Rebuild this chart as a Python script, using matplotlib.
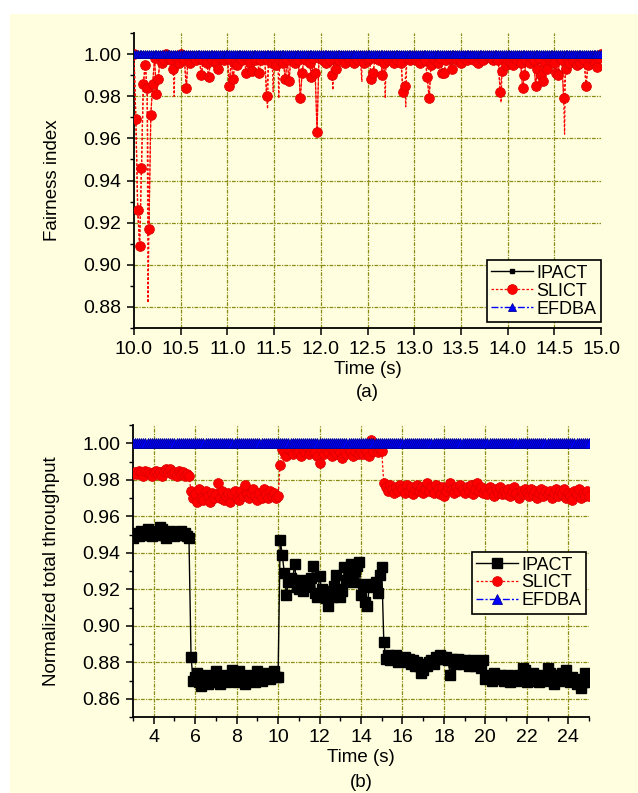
import numpy as np
import matplotlib
matplotlib.use('Agg')
import matplotlib.pyplot as plt
from matplotlib.patches import Rectangle
from matplotlib.ticker import MultipleLocator, FormatStrFormatter

plt.rcParams['font.family'] = ['Liberation Sans', 'DejaVu Sans']
plt.rcParams['font.size'] = 13

# ---------------- (a) fairness index, 10 - 15 s ----------------
t_a = np.linspace(10.0, 15.0, 251)
slict_a = [
    1.000, 0.969, 0.926, 0.909, 0.946, 0.986, 0.995, 0.984, 0.917, 0.971,
    0.986, 0.998, 0.981, 0.988, 0.999, 0.996, 0.997, 1.000, 0.998, 0.999,
    0.997, 0.993, 0.999, 0.998, 0.996, 1.000, 0.998, 0.997, 0.984, 0.999,
    0.996, 0.999, 0.998, 0.997, 0.999, 0.998, 0.990, 0.997, 0.999, 0.996,
    0.989, 0.998, 0.997, 0.999, 0.996, 0.993, 0.998, 0.999, 0.997, 0.998,
    0.999, 0.985, 0.997, 0.988, 0.996, 0.995, 0.999, 0.998, 0.997, 0.999,
    0.991, 0.998, 0.996, 0.992, 0.999, 0.997, 0.998, 0.991, 0.997, 0.999,
    0.998, 0.980, 0.997, 0.999, 0.996, 0.998, 0.995, 0.999, 0.997, 0.998,
    0.996, 0.988, 0.997, 0.987, 0.999, 0.998, 0.996, 0.999, 0.997, 0.979,
    0.991, 0.998, 0.997, 0.999, 0.996, 0.989, 0.998, 0.991, 0.963, 0.998,
    0.999, 0.997, 0.998, 0.996, 0.999, 0.997, 0.990, 0.998, 0.993, 0.999,
    0.997, 0.999, 0.998, 0.996, 0.999, 0.997, 0.998, 0.999, 0.996, 0.998,
    0.997, 0.999, 0.998, 0.996, 0.999, 0.997, 0.998, 0.988, 0.991, 0.998,
    0.999, 0.997, 0.998, 0.990, 0.996, 0.999, 0.997, 0.998, 0.999, 0.996,
    0.998, 0.997, 0.999, 0.996, 0.982, 0.985, 0.998, 0.999, 0.997, 0.998,
    0.999, 0.997, 0.998, 0.996, 0.999, 0.998, 0.997, 0.989, 0.979, 0.995,
    0.998, 0.997, 0.999, 0.996, 0.998, 0.991, 0.991, 0.997, 0.999, 0.998,
    0.993, 0.998, 0.999, 0.997, 0.998, 0.996, 0.999, 0.998, 0.997, 0.999,
    0.998, 0.999, 0.997, 0.998, 0.996, 0.998, 0.999, 0.997, 0.998, 0.999,
    0.999, 0.998, 0.997, 0.999, 0.998, 0.997, 0.982, 0.992, 0.998, 0.995,
    0.997, 0.999, 0.996, 0.995, 0.998, 0.997, 0.999, 0.996, 0.984, 0.990,
    0.997, 0.999, 0.996, 0.998, 0.997, 0.985, 0.993, 0.998, 0.990, 0.987,
    0.996, 0.993, 0.998, 0.997, 0.999, 0.996, 0.991, 0.990, 0.998, 0.997,
    0.979, 0.993, 0.998, 0.996, 0.999, 0.997, 0.998, 0.995, 0.998, 0.996,
    0.998, 0.997, 0.985, 0.995, 0.998, 0.999, 0.997, 0.996, 0.994, 0.998,
    1.000,
]
# short SLICT drops that show only as dashed line (no symbol)
slict_a_dip_t = [10.15, 10.43, 11.43, 11.49, 11.55, 12.13, 12.44, 12.69, 12.91, 13.93, 14.61]
slict_a_dip_v = [0.882, 0.980, 0.974, 0.982, 0.979, 0.983, 0.987, 0.979, 0.975, 0.977, 0.962]
ipact_a = [1.0] * len(t_a)
efdba_a = [1.0] * len(t_a)

# ---------------- (b) normalized throughput, 3 - 25 s ----------------
t_b = np.linspace(3.0, 25.0, 221)
ipact_b = [
    0.948, 0.950, 0.951, 0.949, 0.952, 0.950, 0.951, 0.953, 0.950, 0.949,
    0.951, 0.952, 0.950, 0.954, 0.953, 0.950, 0.948, 0.951, 0.952, 0.950,
    0.949, 0.951, 0.950, 0.952, 0.950, 0.951, 0.949, 0.948, 0.883, 0.870,
    0.872, 0.874, 0.869, 0.867, 0.871, 0.873, 0.868, 0.870, 0.872, 0.869,
    0.875, 0.871, 0.868, 0.870, 0.873, 0.869, 0.872, 0.870, 0.876, 0.871,
    0.869, 0.875, 0.872, 0.870, 0.868, 0.871, 0.873, 0.870, 0.872, 0.869,
    0.875, 0.871, 0.870, 0.873, 0.872, 0.874, 0.871, 0.873, 0.875, 0.872,
    0.872, 0.947, 0.939, 0.929, 0.917, 0.924, 0.926, 0.925, 0.934, 0.921,
    0.920, 0.925, 0.919, 0.922, 0.921, 0.923, 0.926, 0.933, 0.918, 0.916,
    0.927, 0.920, 0.919, 0.915, 0.911, 0.918, 0.916, 0.922, 0.928, 0.920,
    0.916, 0.919, 0.932, 0.925, 0.931, 0.934, 0.924, 0.930, 0.933, 0.935,
    0.917, 0.923, 0.913, 0.911, 0.921, 0.922, 0.923, 0.924, 0.918, 0.928,
    0.932, 0.891, 0.882, 0.884, 0.881, 0.883, 0.882, 0.884, 0.880, 0.881,
    0.881, 0.883, 0.880, 0.882, 0.879, 0.881, 0.878, 0.880, 0.878, 0.874,
    0.876, 0.879, 0.878, 0.880, 0.881, 0.879, 0.883, 0.882, 0.884, 0.883,
    0.882, 0.883, 0.881, 0.873, 0.882, 0.880, 0.879, 0.882, 0.881, 0.879,
    0.881, 0.880, 0.878, 0.879, 0.881, 0.878, 0.880, 0.879, 0.877, 0.881,
    0.871, 0.873, 0.872, 0.870, 0.874, 0.872, 0.871, 0.873, 0.872, 0.870,
    0.871, 0.873, 0.869, 0.872, 0.871, 0.870, 0.873, 0.871, 0.877, 0.876,
    0.869, 0.873, 0.871, 0.874, 0.870, 0.872, 0.869, 0.871, 0.873, 0.870,
    0.877, 0.874, 0.871, 0.868, 0.873, 0.872, 0.870, 0.874, 0.871, 0.876,
    0.871, 0.869, 0.872, 0.870, 0.868, 0.871, 0.866, 0.869, 0.874, 0.870,
    0.869,
]
slict_b = [
    0.983, 0.984, 0.983, 0.985, 0.984, 0.982, 0.985, 0.984, 0.983, 0.982,
    0.984, 0.985, 0.983, 0.984, 0.982, 0.985, 0.986, 0.984, 0.986, 0.983,
    0.984, 0.982, 0.985, 0.983, 0.984, 0.982, 0.983, 0.982, 0.974, 0.970,
    0.972, 0.968, 0.975, 0.970, 0.969, 0.974, 0.971, 0.968, 0.973, 0.970,
    0.972, 0.978, 0.970, 0.974, 0.969, 0.971, 0.973, 0.968, 0.972, 0.974,
    0.970, 0.969, 0.974, 0.971, 0.977, 0.972, 0.970, 0.973, 0.975, 0.971,
    0.969, 0.973, 0.970, 0.975, 0.972, 0.970, 0.974, 0.971, 0.973, 0.970,
    0.971, 0.988, 0.997, 0.995, 0.993, 0.997, 0.996, 0.994, 0.998, 0.995,
    0.996, 0.993, 0.997, 0.995, 0.998, 0.994, 0.996, 0.997, 0.995, 0.993,
    0.989, 0.996, 0.994, 0.997, 0.995, 0.998, 0.993, 0.996, 0.994, 0.997,
    0.995, 0.992, 0.996, 0.994, 0.997, 0.995, 0.993, 0.996, 0.998, 0.994,
    0.996, 0.994, 0.997, 0.995, 0.993, 1.002, 0.996, 0.998, 0.995, 0.997,
    0.996, 0.978, 0.976, 0.974, 0.977, 0.975, 0.973, 0.976, 0.974, 0.977,
    0.975, 0.973, 0.977, 0.974, 0.976, 0.972, 0.975, 0.977, 0.974, 0.976,
    0.973, 0.975, 0.978, 0.974, 0.976, 0.973, 0.977, 0.975, 0.972, 0.976,
    0.971, 0.974, 0.976, 0.978, 0.975, 0.973, 0.976, 0.974, 0.977, 0.975,
    0.973, 0.976, 0.974, 0.977, 0.972, 0.975, 0.978, 0.974, 0.976, 0.973,
    0.975, 0.972, 0.976, 0.974, 0.971, 0.975, 0.973, 0.976, 0.972, 0.974,
    0.972, 0.975, 0.971, 0.974, 0.976, 0.973, 0.970, 0.974, 0.972, 0.975,
    0.973, 0.971, 0.975, 0.972, 0.974, 0.970, 0.973, 0.975, 0.971, 0.974,
    0.972, 0.974, 0.970, 0.973, 0.975, 0.971, 0.974, 0.972, 0.975, 0.970,
    0.973, 0.971, 0.969, 0.974, 0.972, 0.975, 0.970, 0.973, 0.971, 0.974,
    0.971,
]
efdba_b = [1.0] * len(t_b)

CREAM = '#ffffe0'
GRID = '#8c8c14'
RED = '#ff0000'
BLUE = '#0000ff'

fig = plt.figure(figsize=(6.38, 7.93), dpi=100, facecolor='white')
fig.add_artist(Rectangle((10 / 638, 0), 1 - 10 / 638, 1 - 14 / 793,
                         transform=fig.transFigure, facecolor=CREAM,
                         edgecolor='none', zorder=-10))

ax1 = fig.add_axes([134 / 638, 1 - 328 / 793, 467 / 638, 295 / 793])
ax2 = fig.add_axes([133 / 638, 1 - 717 / 793, 456 / 638, 292 / 793])


def style_axes(ax):
    ax.set_facecolor('none')
    for s in ('top', 'right'):
        ax.spines[s].set_visible(False)
    for s in ('left', 'bottom'):
        ax.spines[s].set_linewidth(1.3)
    ax.tick_params(which='major', direction='out', length=5, width=1.1, pad=4, labelsize=14)
    ax.tick_params(which='minor', direction='out', length=2.8, width=1.0)


def draw_grid(ax, xs, ys):
    for x in xs:
        ax.axvline(x, color=GRID, lw=0.9, ls=(0, (3, 1, 1, 1)), zorder=0.5)
    for y in ys:
        ax.axhline(y, color=GRID, lw=0.9, ls=(0, (3, 1, 1, 1)), zorder=0.5)


# ---- panel (a) ----
style_axes(ax1)
draw_grid(ax1, [10.5, 11.0, 11.5, 12.0, 12.5, 13.0, 13.5, 14.0, 14.5],
          [0.88, 0.90, 0.92, 0.94, 0.96, 0.98, 1.00])

line_t = np.concatenate([t_a, slict_a_dip_t])
line_v = np.concatenate([slict_a, slict_a_dip_v])
order = np.argsort(line_t)

ax1.plot(t_a, ipact_a, color='black', lw=1, marker='s', ms=3, label='IPACT', zorder=2)
ax1.plot(line_t[order], line_v[order], color=RED, lw=0.9, ls=(0, (2, 1.5)), zorder=3)
ax1.plot(t_a, slict_a, color=RED, lw=0.9, ls=(0, (2, 1.5)), marker='o', ms=7,
         mfc=RED, mec='#dd0000', mew=0.6, label='SLICT', zorder=3)
ax1.plot(t_a, efdba_a, color=BLUE, lw=1, ls=(0, (5, 1.5, 1.5, 1.5)), marker='^', ms=5.5,
         mfc=BLUE, mec='#00009a', mew=0.6, label='EFDBA', zorder=4)

ax1.set_xlim(10.0, 15.0)
ax1.set_ylim(0.87, 1.01)
ax1.xaxis.set_major_locator(MultipleLocator(0.5))
ax1.xaxis.set_major_formatter(FormatStrFormatter('%.1f'))
ax1.yaxis.set_major_locator(MultipleLocator(0.02))
ax1.yaxis.set_minor_locator(MultipleLocator(0.01))
ax1.yaxis.set_major_formatter(FormatStrFormatter('%.2f'))
ax1.set_xlabel('Time (s)', fontsize=13.5)
ax1.xaxis.set_label_coords(0.5, -0.113)
ax1.set_ylabel('Fairness index', fontsize=13.5)
ax1.yaxis.set_label_coords(-0.157, 0.5)
ax1.text(0.5, -0.217, '(a)', transform=ax1.transAxes, ha='center', va='center', fontsize=13.5)

leg1 = ax1.legend(loc='lower right', bbox_to_anchor=(1.0, 0.02), borderaxespad=0,
                  fancybox=False, framealpha=1, facecolor=CREAM, edgecolor='black',
                  fontsize=13, handlelength=2.3, handletextpad=0.2, labelspacing=0.05,
                  borderpad=0.25)
leg1.get_frame().set_linewidth(1.2)

# ---- panel (b) ----
style_axes(ax2)
draw_grid(ax2, [4, 6, 8, 10, 12, 14, 16, 18, 20, 22, 24],
          [0.86, 0.88, 0.90, 0.92, 0.94, 0.96, 0.98, 1.00])

ax2.plot(t_b, ipact_b, color='black', lw=1, marker='s', ms=6.5, label='IPACT', zorder=2)
ax2.plot(t_b, slict_b, color=RED, lw=0.9, ls=(0, (2, 1.5)), marker='o', ms=7,
         mfc=RED, mec='#dd0000', mew=0.6, label='SLICT', zorder=3)
ax2.plot(t_b, efdba_b, color=BLUE, lw=1, ls=(0, (5, 1.5, 1.5, 1.5)), marker='^', ms=7.5,
         mfc=BLUE, mec='#00009a', mew=0.6, label='EFDBA', zorder=4)

ax2.set_xlim(3.0, 25.0)
ax2.set_ylim(0.85, 1.01)
ax2.xaxis.set_major_locator(MultipleLocator(2))
ax2.xaxis.set_minor_locator(MultipleLocator(1))
ax2.yaxis.set_major_locator(MultipleLocator(0.02))
ax2.yaxis.set_minor_locator(MultipleLocator(0.01))
ax2.yaxis.set_major_formatter(FormatStrFormatter('%.2f'))
ax2.set_xlabel('Time (s)', fontsize=13.5)
ax2.xaxis.set_label_coords(0.5, -0.108)
ax2.set_ylabel('Normalized total throughput', fontsize=13.5)
ax2.yaxis.set_label_coords(-0.16, 0.5)
ax2.text(0.5, -0.226, '(b)', transform=ax2.transAxes, ha='center', va='center', fontsize=13.5)

leg2 = ax2.legend(loc='upper right', bbox_to_anchor=(0.993, 0.565), borderaxespad=0,
                  fancybox=False, framealpha=1, facecolor=CREAM, edgecolor='black',
                  fontsize=13, handlelength=2.3, handletextpad=0.2, labelspacing=0.05,
                  borderpad=0.25)
leg2.get_frame().set_linewidth(1.2)

fig.savefig('out.png', dpi=100, facecolor='white')
